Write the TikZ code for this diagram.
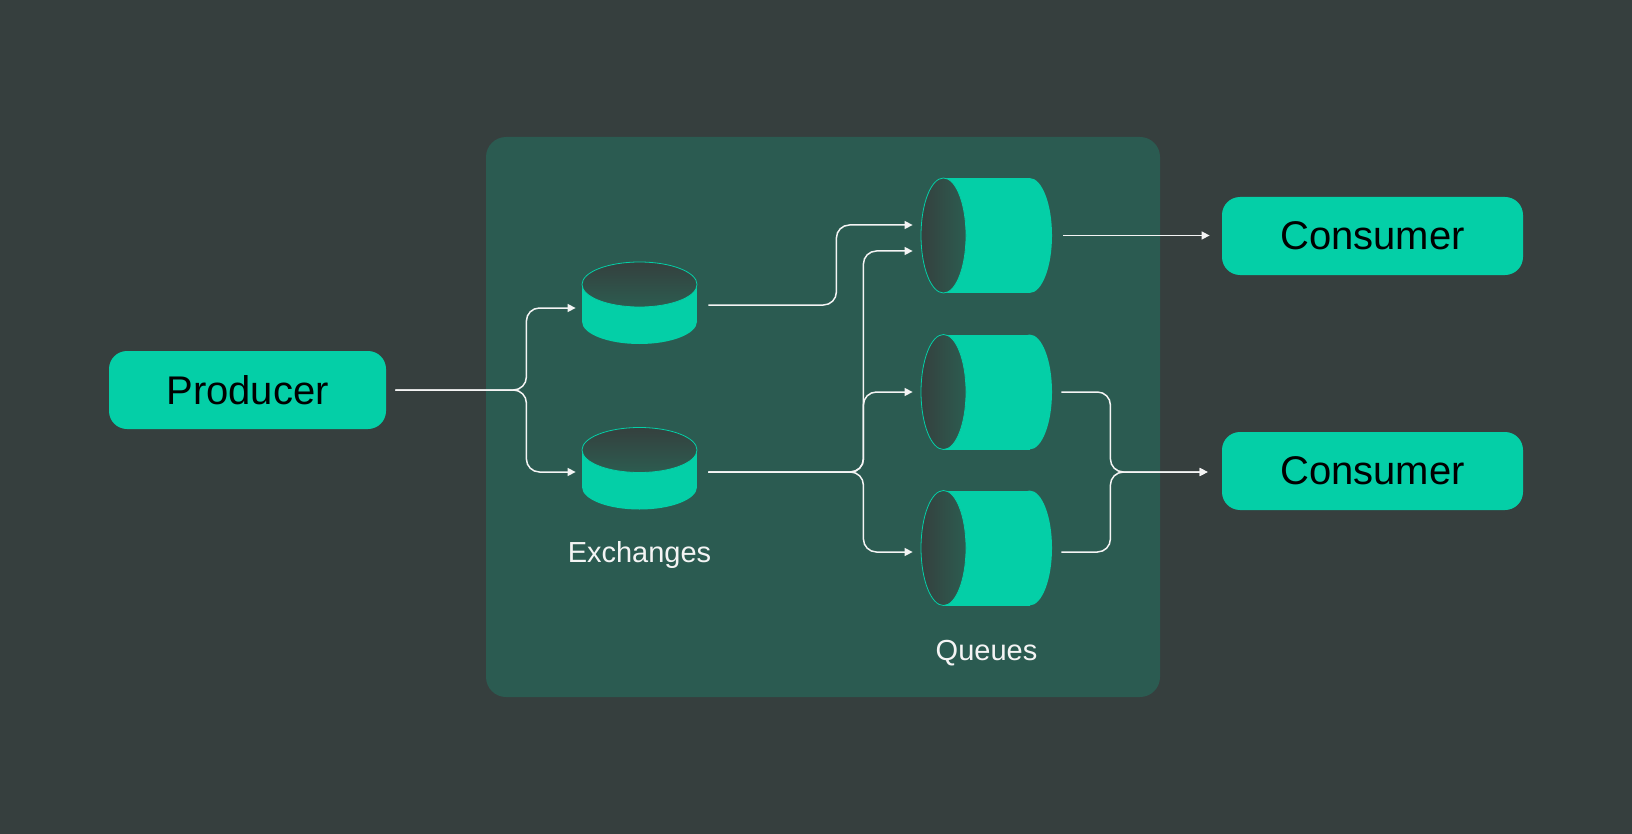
\documentclass[tikz,border=0pt]{standalone}
\usepackage{fontspec}
\setmainfont{Liberation Sans}
\usepackage{tikz}
\usetikzlibrary{shapes,arrows.meta,calc}
\definecolor{bgcol}{RGB}{54,63,62}
\definecolor{panelcol}{RGB}{43,91,81}
\definecolor{mint}{RGB}{4,207,167}
\definecolor{faceA}{RGB}{53,64,62}
\definecolor{faceB}{RGB}{44,92,80}
\definecolor{wirecol}{RGB}{244,244,244}
\tikzstyle{every box node}=[rectangle,rounded corners=9pt,fill=mint,text=black,font=\fontsize{20}{24}\selectfont,minimum height=39pt,inner sep=0pt]
\tikzstyle{panel}=[rectangle,rounded corners=10pt,fill=panelcol,inner sep=0pt]
\tikzstyle{wire}=[draw=wirecol,line width=0.75pt,rounded corners=6.5pt,-{Triangle[length=4pt,width=4pt]}]
\tikzstyle{label}=[text=wirecol,font=\fontsize{14.5}{17}\selectfont,anchor=base]
\tikzstyle{face}=[draw=mint,line width=0.4pt]
\newcommand{\exch}[3]{%
\begin{scope}[shift={(#2,#3)}]
\fill[mint] (0,18.5) ellipse [x radius=57.5,y radius=22.5];
\fill[mint] (-57.5,-18.5) rectangle (57.5,18.5);
\shade[face,top color=faceA,bottom color=faceB] (0,-18.5) ellipse [x radius=57.5,y radius=22.5];
\node[inner sep=0pt,minimum width=57.5pt,minimum height=41pt] (#1) at (0,0) {};
\end{scope}}
\newcommand{\queue}[3]{%
\begin{scope}[shift={(#2,#3)}]
\fill[mint] (43,0) ellipse [x radius=22.5,y radius=57.5];
\fill[mint] (-43,-57.5) rectangle (43,57.5);
\shade[face,left color=faceA,right color=faceB] (-43,0) ellipse [x radius=22.5,y radius=57.5];
\node[inner sep=0pt,minimum width=65.5pt,minimum height=57.5pt] (#1) at (0,0) {};
\end{scope}}
\begin{document}
\begin{tikzpicture}[x=0.5pt,y=-0.5pt]
\fill[bgcol] (0,0) rectangle (1632,834);
\node[panel,minimum width=337pt,minimum height=280pt] (broker) at (823,417) {};
\node[every box node,minimum width=138.5pt] (prod) at (247.5,390) {Producer};
\node[every box node,minimum width=150.5pt] (cons1) at (1372.5,236) {Consumer};
\node[every box node,minimum width=150.5pt] (cons2) at (1372.5,471) {Consumer};
\exch{e1}{639.5}{303}
\exch{e2}{639.5}{468.5}
\queue{q1}{986.5}{235.5}
\queue{q2}{986.5}{392}
\queue{q3}{986.5}{548}
\node[label] (exlabel) at (639.5,562) {Exchanges};
\node[label] (qlabel) at (986.5,660) {Queues};
\coordinate (pout) at ([xshift=4.5pt]prod.east);
\coordinate (e1in) at ([xshift=-3pt,yshift=-2.5pt]e1.west);
\coordinate (e2in) at ([xshift=-3pt,yshift=-1.75pt]e2.west);
\coordinate (e1out) at ([xshift=5.5pt,yshift=-1pt]e1.east);
\coordinate (e2out) at ([xshift=5.5pt,yshift=-1.75pt]e2.east);
\coordinate (q1ina) at ([xshift=-4pt,yshift=5.25pt]q1.west);
\coordinate (q1inb) at ([xshift=-4pt,yshift=-7.75pt]q1.west);
\coordinate (q2in) at ([xshift=-4pt]q2.west);
\coordinate (q3in) at ([xshift=-4pt,yshift=-2pt]q3.west);
\coordinate (q1out) at ([xshift=5.5pt]q1.east);
\coordinate (q2out) at ([xshift=4.5pt]q2.east);
\coordinate (q3out) at ([xshift=4.5pt,yshift=-2pt]q3.east);
\coordinate (c1in) at ([xshift=-6pt]cons1.west);
\coordinate (c2in) at ([xshift=-7pt,yshift=-0.5pt]cons2.west);
\draw[wire] (pout) -- ++(131,0) |- (e1in);
\draw[wire] (pout) -- ++(131,0) |- (e2in);
\draw[wire] (e1out) -- ++(128,0) |- (q1ina);
\draw[wire] (e2out) -- ++(155,0) |- (q1inb);
\draw[wire] (e2out) -- ++(155,0) |- (q2in);
\draw[wire] (e2out) -- ++(155,0) |- (q3in);
\draw[wire] (q1out) -- (q1out -| c1in);
\draw[wire] (q2out) -- ++(49,0) |- (c2in);
\draw[wire] (q3out) -- ++(49,0) |- (c2in);
\end{tikzpicture}
\end{document}
